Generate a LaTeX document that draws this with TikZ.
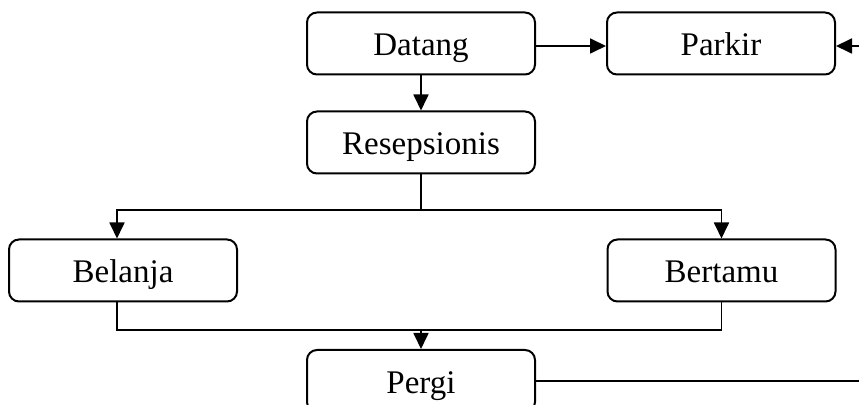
\documentclass[tikz,border=0pt]{standalone}
\usepackage{fontspec}
\setmainfont{Liberation Serif}
\usetikzlibrary{arrows.meta}

\begin{document}
\begin{tikzpicture}[x=0.5pt,y=-0.5pt,
    box/.style={draw=black,line width=1pt,rounded corners=5pt,minimum width=114pt,minimum height=31pt,inner sep=0pt,text height=12.5pt,text depth=0pt,font=\fontsize{16.5}{19}\selectfont},
    garis/.style={line width=0.9pt},
    panah/.style={line width=0.9pt,-{Triangle[length=8pt,width=7.5pt]}}]
    \useasboundingbox (0,0) rectangle (859,405);
    % kotak
    \node[box] (datang) at (421,43.5) {Datang};
    \node[box] (parkir) at (721,43.5) {Parkir};
    \node[box] (resepsionis) at (421,142.5) {Resepsionis};
    \node[box] (belanja) at (123,270.5) {Belanja};
    \node[box] (bertamu) at (721.5,270.5) {Bertamu};
    \node[box] (pergi) at (421,381) {Pergi};
    % titik bantu
    \coordinate (kanan1) at (859,46);
    \coordinate (kanan2) at (859,379);
    \coordinate (cabang) at (421,210);
    \coordinate (gabung) at (421,330);
    % panah
    \draw[panah] (datang.east |- kanan1) -- (parkir.west |- kanan1);
    \draw[panah] (kanan1) -- (parkir.east |- kanan1);
    \draw[panah] (datang) -- (resepsionis);
    \draw[garis] (resepsionis.south) -- (cabang);
    \draw[panah] (cabang) -| ([xshift=-3pt]belanja.north);
    \draw[panah] (cabang) -| (bertamu.north);
    \draw[garis] ([xshift=-3pt]belanja.south) |- (gabung);
    \draw[garis] (bertamu.south) |- (gabung);
    \draw[panah] (gabung) -- (pergi);
    \draw[garis] (pergi.east) -- (pergi.east -| kanan2);
\end{tikzpicture}
\end{document}
